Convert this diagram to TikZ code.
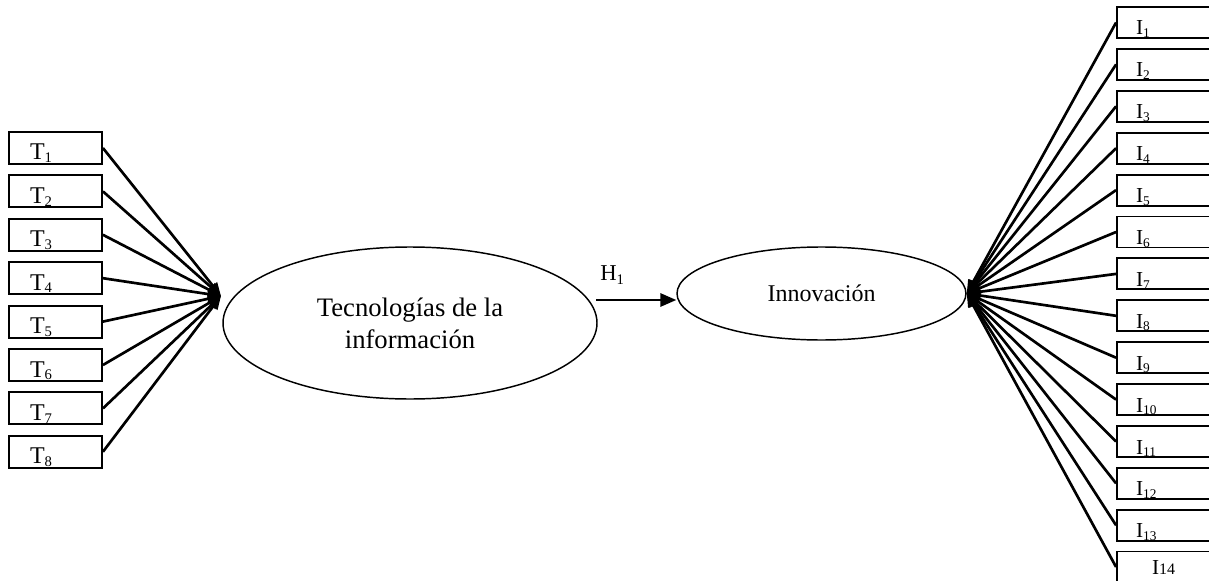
\documentclass[tikz,border=0pt]{standalone}
\usepackage{fontspec}
\setmainfont{Liberation Serif}
\usetikzlibrary{arrows.meta,shapes.geometric,calc}
\newcommand\tsub[1]{\raisebox{-2pt}{\fontsize{11pt}{12pt}\selectfont #1}}
\newcommand\isub[1]{\raisebox{-2pt}{\fontsize{10pt}{11pt}\selectfont #1}}
\newcommand\hsub[1]{\raisebox{-3pt}{\fontsize{11pt}{12pt}\selectfont #1}}
\begin{document}
\begin{tikzpicture}[x=0.75pt,y=-0.75pt,
  tbox/.style={draw, line width=1.4pt, rectangle, inner xsep=15.75pt, inner ysep=0pt,
    text width=38.25pt, align=left, text height=21pt, text depth=3pt,
    font=\fontsize{18pt}{20pt}\selectfont},
  ibox/.style={draw, line width=1.4pt, rectangle, inner xsep=14.25pt, inner ysep=0pt,
    text width=42.75pt, align=left, text height=21pt, text depth=2.25pt,
    font=\fontsize{16pt}{18pt}\selectfont},
  latent/.style={draw, ellipse, line width=1.1pt, inner sep=0pt},
  conn/.style={line width=2pt, -{Triangle[length=10pt,width=8pt]}},
  hyp/.style={line width=1.6pt, -{Triangle[length=12pt,width=10pt]}},
]
\clip (0,0) rectangle (1209,581);
\fill[white] (0,0) rectangle (1209,581);

% latent variables
\node[latent, minimum width=280.5pt, minimum height=114pt, align=center,
  font=\fontsize{20pt}{24pt}\selectfont] (tec) at (410,323) {Tecnologías de la\\información};
\node[latent, minimum width=216.75pt, minimum height=69.75pt,
  font=\fontsize{18pt}{20pt}\selectfont] (inn) at (821.5,293.5) {Innovación};

% indicators T
\foreach \i in {1,...,8}
  \node[tbox] (t\i) at (55.5,{148+43.4*(\i-1)}) {T\tsub{\i}};
% indicators I
\foreach \i in {1,...,13}
  \node[ibox] (i\i) at (1164.5,{22.5+41.9*(\i-1)}) {I\isub{\i}};
\node[ibox, inner xsep=26.25pt, text width=18.75pt, text height=17.25pt, text depth=6pt]
  (i14) at (1164.5,567) {I{\fontsize{12pt}{13pt}\selectfont 14}};

% connectors
\coordinate (tecin) at (221,296);
\foreach \i in {1,...,8}
  \draw[conn] (t\i.east) -- (tecin);
\foreach \i in {1,...,14}
  \draw[conn] (i\i.west) -- (inn.east);

% hypothesis
\coordinate (h1s) at (596,300);
\draw[hyp] (h1s) -- (h1s -| inn.west);
\node[anchor=base west, inner sep=0pt, font=\fontsize{17pt}{19pt}\selectfont] (h1) at (600,280) {H\hsub{1}};
\end{tikzpicture}
\end{document}
